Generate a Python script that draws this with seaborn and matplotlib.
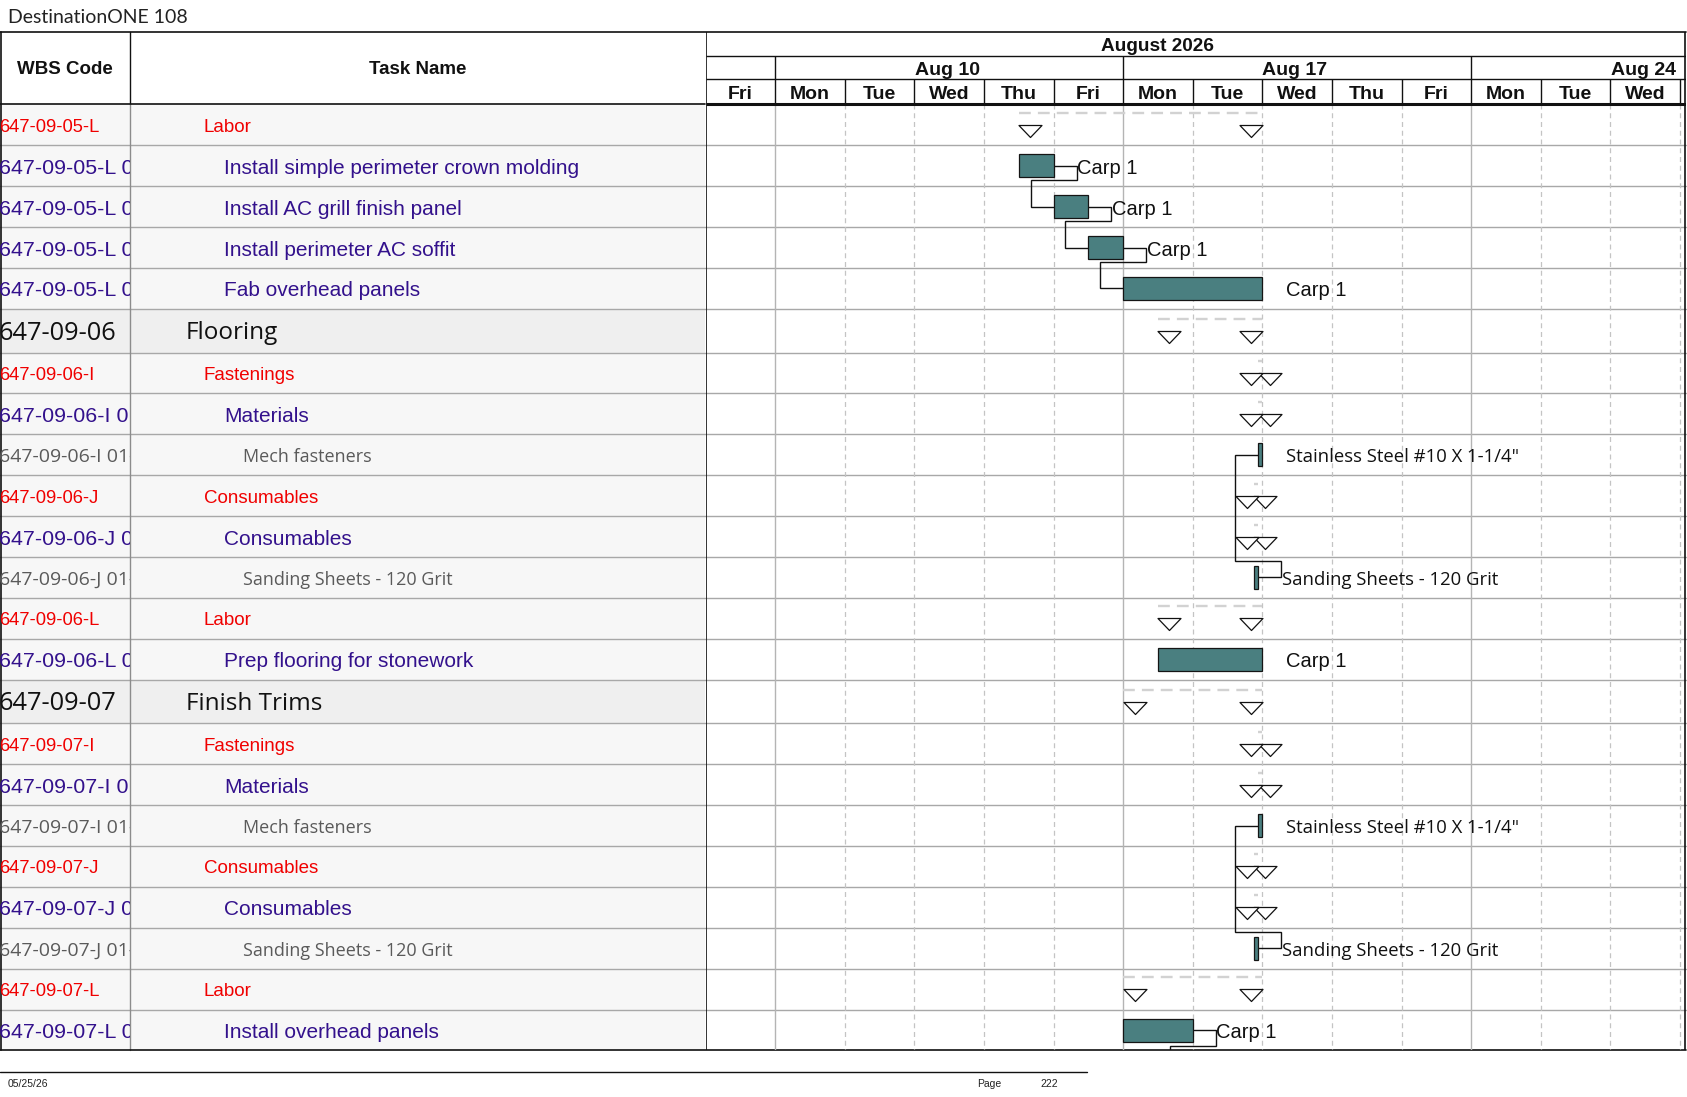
import numpy as np
import pandas as pd
import matplotlib
matplotlib.use("Agg")
import matplotlib.pyplot as plt
from matplotlib.path import Path
import seaborn as sns

sns.set_theme(style="white")
plt.rcParams['font.family'] = ['Liberation Sans', 'DejaVu Sans']

# ---------------- data ----------------
title = "DestinationONE 108"
month_label = "August 2026"
week_labels = ["Aug 10", "Aug 17", "Aug 24"]
week_starts = [1, 6, 11]            # working-day index of each Monday
day_labels = ["Fri", "Mon", "Tue", "Wed", "Thu", "Fri", "Mon", "Tue",
              "Wed", "Thu", "Fri", "Mon", "Tue", "Wed"]

wbs_codes = ["647-09-05-L", "647-09-05-L 01", "647-09-05-L 02", "647-09-05-L 03",
             "647-09-05-L 04", "647-09-06", "647-09-06-I", "647-09-06-I 01",
             "647-09-06-I 01-01", "647-09-06-J", "647-09-06-J 01", "647-09-06-J 01-01",
             "647-09-06-L", "647-09-06-L 01", "647-09-07", "647-09-07-I",
             "647-09-07-I 01", "647-09-07-I 01-01", "647-09-07-J", "647-09-07-J 01",
             "647-09-07-J 01-01", "647-09-07-L", "647-09-07-L 01"]
task_names = ["Labor", "Install simple perimeter crown molding", "Install AC grill finish panel",
              "Install perimeter AC soffit", "Fab overhead panels", "Flooring", "Fastenings",
              "Materials", "Mech fasteners", "Consumables", "Consumables",
              "Sanding Sheets - 120 Grit", "Labor", "Prep flooring for stonework",
              "Finish Trims", "Fastenings", "Materials", "Mech fasteners", "Consumables",
              "Consumables", "Sanding Sheets - 120 Grit", "Labor", "Install overhead panels"]
levels = [2, 3, 3, 3, 3, 1, 2, 3, 4, 2, 3, 4, 2, 3, 1, 2, 3, 4, 2, 3, 4, 2, 3]
kinds = ["sum", "task", "task", "task", "task", "sum", "sum", "sum", "task", "sum", "sum",
         "task", "sum", "task", "sum", "sum", "sum", "task", "sum", "sum", "task", "sum", "task"]
# start / finish in working days from Fri Aug 7
starts = [4.5, 4.5, 5.0, 5.5, 6.0, 6.5, 7.94, 7.94, 7.94, 7.88, 7.88, 7.88,
          6.5, 6.5, 6.0, 7.94, 7.94, 7.94, 7.88, 7.88, 7.88, 6.0, 6.0]
finishes = [8.0, 5.0, 5.5, 6.0, 8.0, 8.0, 8.0, 8.0, 8.0, 7.94, 7.94, 7.94,
            8.0, 8.0, 8.0, 8.0, 8.0, 8.0, 7.94, 7.94, 7.94, 8.0, 7.0]
resources = ["", "Carp 1", "Carp 1", "Carp 1", "Carp 1", "", "", "",
             'Stainless Steel #10 X 1-1/4"', "", "", "Sanding Sheets - 120 Grit",
             "", "Carp 1", "", "", "", 'Stainless Steel #10 X 1-1/4"', "", "",
             "Sanding Sheets - 120 Grit", "", "Carp 1"]
link_from = [1, 2, 3, 11, 20, 22]
link_to = [2, 3, 4, 8, 17, None]
next_page_start = 7.0
footer_date = "05/25/26"
footer_page = "222"

# ---------------- layout ----------------
W, H = 1687, 1097
DAY = 69.6
GX0, GX1 = 705.5, 1686
COL1 = 130
Y_TOP, Y_M, Y_W, Y_HB = 32, 55.7, 79.3, 104.4
TY = 2.5  # text baseline nudge (px)
row_h = [43.6 if lv == 1 else 40.9 for lv in levels]
tops = Y_HB + np.concatenate([[0], np.cumsum(row_h)[:-1]])
bots = tops + np.array(row_h)
centers = (tops + bots) / 2
Y_BOT = bots[-1]

df = pd.DataFrame(dict(wbs=wbs_codes, name=task_names, level=levels, kind=kinds,
                       start=starts, finish=finishes, res=resources,
                       yc=centers, top=tops, bot=bots))

PX = 1 / 1.3889  # px -> pt
red, purple, gray = "#F00000", "#33118C", "#5A5A5A"
style = {
    1: dict(family=["Open Sans", "DejaVu Sans"], size=17.5, color="#111111", x=186, wsize=18.3),
    2: dict(family=["Liberation Sans", "DejaVu Sans"], size=13.5, color=red, x=204, wsize=13.2),
    3: dict(family=["Liberation Sans", "DejaVu Sans"], size=15, color=purple, x=224, wsize=15.4),
    4: dict(family=["Open Sans", "DejaVu Sans"], size=13, color=gray, x=243, wsize=14),
}

fig = plt.figure(figsize=(W / 100, H / 100), dpi=100)
fig.patch.set_facecolor("white")


def add_ax(x0, y0, x1, y1, z):
    a = fig.add_axes([x0 / W, 1 - y1 / H, (x1 - x0) / W, (y1 - y0) / H], zorder=z)
    a.set_axis_off()
    a.patch.set_alpha(0)
    return a


ax = add_ax(0, 0, W, H, 0)
ax.set_xlim(0, W)
ax.set_ylim(H, 0)

# title
ax.text(8, 15 + TY, title, fontsize=14, family=["Lato", "DejaVu Sans"], color="#222222",
        va="center", ha="left")

# table backgrounds
for _, r in df.iterrows():
    fc = "#EFEFEF" if r.level == 1 else "#F7F7F7"
    ax.fill_between([0, GX0], r.top, r.bot, color=fc, lw=0, zorder=0)
# row lines
for yb in df.bot[:-1]:
    ax.plot([0, GX1], [yb, yb], color="#A8A8A8", lw=1, zorder=2)
# column separators
ax.plot([COL1, COL1], [Y_TOP, Y_HB], color="#111111", lw=1, zorder=3)
ax.plot([COL1, COL1], [Y_HB, Y_BOT], color="#8C8C8C", lw=1, zorder=3)
ax.plot([0.5, 0.5], [Y_TOP, Y_BOT], color="#111111", lw=1.2, zorder=3)
# header lines
ax.plot([0, GX1], [Y_TOP, Y_TOP], color="#111111", lw=1.2, zorder=3)
ax.plot([0, GX0], [Y_HB, Y_HB], color="#111111", lw=1.2, zorder=3)
ax.plot([0, GX1], [Y_BOT, Y_BOT], color="#111111", lw=1.2, zorder=3)
ax.text(COL1 / 2, 67 + TY, "WBS Code", fontsize=13.5, weight="bold", ha="center",
        va="center", color="#111111")
ax.text((COL1 + GX0) / 2, 67 + TY, "Task Name", fontsize=13.5, weight="bold", ha="center",
        va="center", color="#111111")

# task names
for _, r in df.iterrows():
    s = style[r.level]
    ax.text(s["x"], r.yc + TY, r["name"], fontsize=s["size"], family=s["family"],
            color=s["color"], ha="left", va="center", zorder=4)

# footer
ax.plot([0, 1087], [1072, 1072], color="#111111", lw=1)
ax.text(8, 1084, footer_date, fontsize=7.5, ha="left", va="center", color="#222222")
ax.text(977, 1084, "Page", fontsize=7.5, ha="left", va="center", color="#222222")
ax.text(1040, 1084, footer_page, fontsize=7.5, ha="left", va="center", color="#222222")

# WBS column (clipped)
axw = add_ax(0, Y_HB, COL1 - 0.5, Y_BOT, 2)
axw.set_xlim(0, COL1 - 0.5)
axw.set_ylim(Y_BOT, Y_HB)
for _, r in df.iterrows():
    s = style[r.level]
    axw.text(-1, r.yc + TY, r.wbs, fontsize=s["wsize"], family=s["family"], color=s["color"],
             ha="left", va="center", clip_on=True)

# ---------------- Gantt ----------------
axg = add_ax(GX0, Y_TOP, GX1, Y_BOT, 3)
XMAX = (GX1 - GX0) / DAY
axg.set_xlim(0, XMAX)
axg.set_ylim(Y_BOT, Y_TOP)

# gridlines
for d in range(1, 15):
    if d in week_starts:
        axg.vlines(d, Y_HB, Y_BOT, color="#B4B4B4", lw=1, zorder=1)
    else:
        axg.vlines(d, Y_HB, Y_BOT, color="#C4C4C4", lw=0.9, linestyles=(0, (4, 3)), zorder=1)
# header grid
axg.hlines([Y_M, Y_W], 0, XMAX, color="#111111", lw=1, zorder=2)
axg.hlines(Y_HB, 0, XMAX, color="#111111", lw=2.2, zorder=2)
axg.vlines(week_starts, Y_M, Y_W, color="#111111", lw=1, zorder=2)
axg.vlines(range(1, 15), Y_W, Y_HB, color="#111111", lw=1, zorder=2)
axg.vlines([0.01, XMAX - 0.01], Y_TOP, Y_BOT, color="#111111", lw=1.2, zorder=2)
axg.text(6.5, (Y_TOP + Y_M) / 2 + TY, month_label, fontsize=13.7, weight="bold",
         ha="center", va="center", color="#111111")
for lab, ws in zip(week_labels, week_starts):
    axg.text(ws + 2.47, (Y_M + Y_W) / 2 + TY, lab, fontsize=14, weight="bold", ha="center",
             va="center", color="#111111")
for i, lab in enumerate(day_labels):
    axg.text(i + 0.5, (Y_W + Y_HB) / 2 + TY, lab, fontsize=14, weight="bold", ha="center",
             va="center", color="#111111")

# task bars
tasks = df[df.kind == "task"]
axg.barh(tasks.yc, tasks.finish - tasks.start, left=tasks.start, height=23,
         color="#4A7F80", edgecolor="#151515", linewidth=0.9, zorder=5)

# summary rows: dashed line + triangles
sums = df[df.kind == "sum"]
for _, r in sums.iterrows():
    axg.plot([r.start, r.finish], [r.yc - 12, r.yc - 12], color="#D2D2D2", lw=1.7,
             ls=(0, (5, 3)), zorder=3, solid_capstyle="butt")
tri = Path([(-0.5, 0), (0.5, 0), (0, -0.5217), (-0.5, 0)],
           [Path.MOVETO, Path.LINETO, Path.LINETO, Path.CLOSEPOLY])
half = 11.5 / DAY
ms = pd.DataFrame({
    "x": np.concatenate([sums.start + half, sums.finish - half]),
    "y": np.concatenate([sums.yc, sums.yc]),
})
size = (23 * PX / 0.958) ** 2
sns.scatterplot(data=ms, x="x", y="y", marker=tri, s=size, color="white",
                edgecolor="#111111", linewidth=0.9, ax=axg, legend=False, zorder=6)
axg.set_xlim(0, XMAX)
axg.set_ylim(Y_BOT, Y_TOP)
axg.set_axis_off()

# resource labels
OFF = 23.5 / DAY
for _, r in tasks.iterrows():
    if r.res:
        if r.level == 4:
            fam, fs = ["Open Sans", "DejaVu Sans"], 13.3
        else:
            fam, fs = ["Liberation Sans", "DejaVu Sans"], 14.5
        axg.text(r.finish + OFF, r.yc + TY, r.res, fontsize=fs, family=fam, color="#111111",
                 ha="left", va="center", zorder=7)

# links
LX = 23 / DAY
for a, b in zip(link_from, link_to):
    ra = df.iloc[a]
    xr = ra.finish + LX
    if b is None:
        xs = [ra.finish, xr, xr, next_page_start - LX, next_page_start - LX]
        ys = [ra.yc, ra.yc, ra.yc + 15.5, ra.yc + 15.5, Y_BOT + 20]
    else:
        rb = df.iloc[b]
        xl = rb.start - LX
        ymid = ra.yc + 14 if b > a else ra.yc - 16
        xs = [ra.finish, xr, xr, xl, xl, rb.start]
        ys = [ra.yc, ra.yc, ymid, ymid, rb.yc, rb.yc]
    axg.plot(xs, ys, color="#111111", lw=1, zorder=4, solid_joinstyle="miter")

fig.savefig("out.png", dpi=100, facecolor="white")
